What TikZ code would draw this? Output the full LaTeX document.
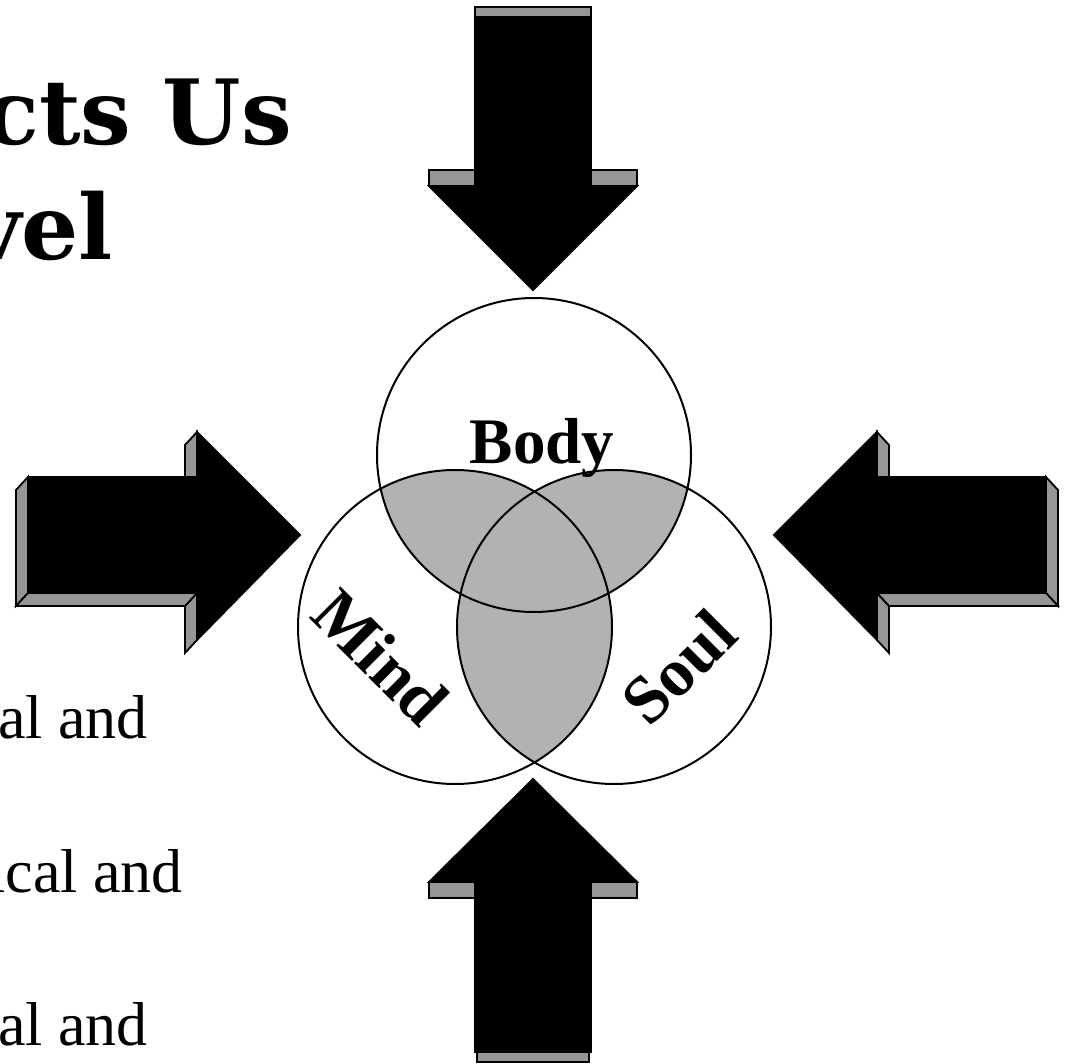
\documentclass[tikz,border=0pt]{standalone}
\usepackage{fontspec}
\setmainfont{Liberation Serif}
\newfontfamily\titlefont{DejaVu Serif}
\definecolor{facegray}{HTML}{969696}
\definecolor{venngray}{HTML}{B2B2B2}
\begin{document}
\begin{tikzpicture}[x=1pt,y=-1pt,
  face/.style={fill=facegray,draw=black,line width=1.8pt,line join=miter},
  front/.style={fill=black,draw=black,line width=1.8pt,line join=miter},
  ring/.style={draw=black,line width=2pt},
  lbl/.style={inner sep=0pt,font=\fontsize{65}{70}\selectfont\bfseries},
  bodytext/.style={inner sep=0pt,font=\fontsize{62}{70}\selectfont},
  titletext/.style={inner sep=0pt,font=\titlefont\bfseries\fontsize{90}{100}\selectfont}]
\useasboundingbox (0,0) rectangle (1071,1064);

% ---------- title fragments ----------
\node[titletext,anchor=base east] (t1) at (292,145) {cts Us};
\node[titletext,anchor=base east] (t2) at (113,260) {vel};

% ---------- body text fragments ----------
\node[bodytext,anchor=base east] (b1) at (148,738) {al and};
\node[bodytext,anchor=base east] (b2) at (183,892) {ical and};
\node[bodytext,anchor=base east] (b3) at (148,1045) {al and};

% ---------- Venn diagram ----------
\coordinate (cb) at (534,455);
\coordinate (cm) at (455,627);
\coordinate (cs) at (614,627);
\begin{scope}
  \clip (cb) circle[radius=157];
  \fill[venngray] (cm) circle[radius=157];
  \fill[venngray] (cs) circle[radius=157];
\end{scope}
\begin{scope}
  \clip (cm) circle[radius=157];
  \fill[venngray] (cs) circle[radius=157];
\end{scope}
\draw[ring] (cb) circle[radius=157];
\draw[ring] (cm) circle[radius=157];
\draw[ring] (cs) circle[radius=157];
\node[lbl,anchor=base] (body) at (542,463) {Body};
\node[lbl,rotate=-45,font=\fontsize{68}{70}\selectfont\bfseries] (mind) at (381,657) {Mind};
\node[lbl,rotate=45,font=\fontsize{68}{70}\selectfont\bfseries] (soul) at (679,667) {Soul};

% ---------- top arrow (pointing down) ----------
\draw[face] (475,7) rectangle (591,17);
\draw[face] (429,170) rectangle (475,186);
\draw[face] (591,170) rectangle (637,186);
\draw[front] (475,17) -- (591,17) -- (591,186) -- (637,186) -- (533,290)
  -- (429,186) -- (475,186) -- cycle;

% ---------- bottom arrow (pointing up) ----------
\draw[face] (477,1052) rectangle (589,1062);
\draw[face] (429,882) rectangle (475,898);
\draw[face] (591,882) rectangle (637,898);
\draw[front] (475,1052) -- (591,1052) -- (591,882) -- (637,882) -- (533,779)
  -- (429,882) -- (475,882) -- cycle;

% ---------- left arrow (pointing right) ----------
\draw[face] (28,477) -- (28,593) -- (16,606) -- (16,490) -- cycle;
\draw[face] (197,432) -- (197,477) -- (185,490) -- (185,445) -- cycle;
\draw[face] (197,593) -- (197,640) -- (185,653) -- (185,606) -- cycle;
\draw[face] (28,593) -- (197,593) -- (185,606) -- (16,606) -- cycle;
\draw[front] (28,477) -- (197,477) -- (197,432) -- (300,535) -- (197,640)
  -- (197,593) -- (28,593) -- cycle;

% ---------- right arrow (pointing left) ----------
\draw[face] (1046,477) -- (1046,593) -- (1058,606) -- (1058,490) -- cycle;
\draw[face] (877,432) -- (877,477) -- (889,490) -- (889,445) -- cycle;
\draw[face] (877,593) -- (877,640) -- (889,653) -- (889,606) -- cycle;
\draw[face] (1046,593) -- (877,593) -- (889,606) -- (1058,606) -- cycle;
\draw[front] (1046,477) -- (877,477) -- (877,432) -- (774,535) -- (877,640)
  -- (877,593) -- (1046,593) -- cycle;
\end{tikzpicture}
\end{document}
